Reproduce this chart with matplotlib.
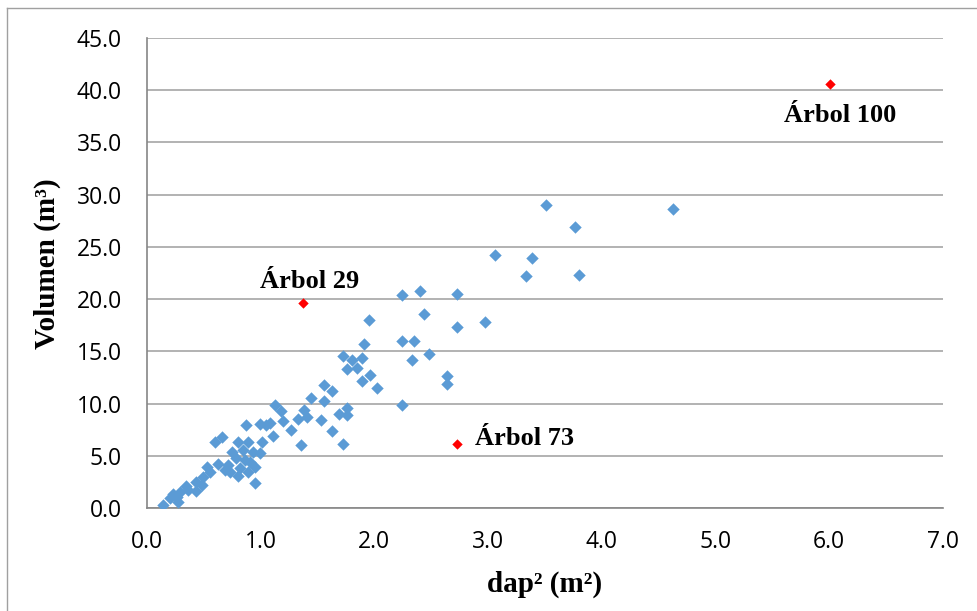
import matplotlib
matplotlib.use("Agg")
from matplotlib import pyplot as plt
from matplotlib.lines import Line2D

# dap^2 (m2) and volume (m3) for the regular trees
dap2 = [3.51, 4.63, 3.76, 3.06, 3.39, 3.33, 3.80, 2.24, 2.40, 2.73,
        2.44, 1.95, 2.97, 2.73, 2.24, 2.35, 1.91, 1.72, 1.89, 2.33,
        2.48, 1.80, 1.76, 1.85, 1.89, 1.96, 2.02, 2.64, 2.64, 1.56,
        1.63, 1.44, 1.56, 1.13, 2.24, 1.18, 1.38, 1.41, 1.69, 1.76,
        1.76, 1.08, 1.20, 1.33, 1.53, 0.87, 0.99, 1.05, 1.27, 1.63,
        1.11, 1.35, 1.72, 0.60, 0.66, 0.80, 0.89, 1.01, 0.75, 0.84,
        0.93, 0.99, 0.62, 0.71, 0.86, 0.82, 0.73, 0.80, 0.89, 0.95,
        0.95, 0.53, 0.55, 0.49, 0.43, 0.48, 0.36, 0.43, 0.29, 0.26,
        0.20, 0.27, 0.14, 0.78, 0.91, 0.69, 0.34, 0.23]
volumen = [29.0, 28.6, 26.9, 24.2, 23.9, 22.2, 22.3, 20.4, 20.8, 20.5,
           18.6, 18.0, 17.8, 17.3, 16.0, 16.0, 15.7, 14.6, 14.4, 14.2,
           14.7, 14.2, 13.3, 13.4, 12.2, 12.7, 11.5, 12.6, 11.9, 11.8,
           11.2, 10.5, 10.2, 9.9, 9.9, 9.3, 9.4, 8.7, 9.0, 9.6,
           8.9, 8.1, 8.3, 8.5, 8.4, 7.9, 8.0, 7.9, 7.5, 7.4,
           6.9, 6.0, 6.1, 6.3, 6.8, 6.3, 6.3, 6.3, 5.4, 5.6,
           5.4, 5.3, 4.2, 4.1, 4.6, 3.8, 3.4, 3.1, 3.4, 3.9,
           2.4, 3.9, 3.4, 3.0, 2.5, 2.2, 1.7, 1.6, 1.5, 1.1,
           1.0, 0.6, 0.3, 4.8, 4.4, 3.6, 2.1, 1.3]

# outliers
out_names = ['Árbol 29', 'Árbol 73', 'Árbol 100']
out_dap2 = [1.37, 2.73, 6.01]
out_vol = [19.6, 6.1, 40.6]
out_offsets = [(5, 16), (13, 4), (7, -23)]
out_ha = ['center', 'left', 'center']

x_ticks = [0, 1, 2, 3, 4, 5, 6, 7]
y_ticks = [0, 5, 10, 15, 20, 25, 30, 35, 40, 45]

fig = plt.figure(figsize=(9.78, 6.11), dpi=100)
ax = fig.add_axes([147 / 978, 103 / 611, 796 / 978, 470 / 611])

ax.scatter(dap2, volumen, marker='D', s=40, color='#5B9BD5', linewidths=0, zorder=3)
ax.scatter(out_dap2, out_vol, marker='D', s=28, color='#FF0000', linewidths=0, zorder=4)

for name, x, y, off, ha in zip(out_names, out_dap2, out_vol, out_offsets, out_ha):
    ax.annotate(name, xy=(x, y), xytext=off, textcoords='offset points',
                ha=ha, va='center', fontsize=19, fontweight='bold',
                family='Liberation Serif')

ax.set_xlim(0, 7)
ax.set_ylim(0, 45)
ax.set_xticks(x_ticks)
ax.set_yticks(y_ticks)
ax.set_xticklabels([f'{v:.1f}' for v in x_ticks], family='Open Sans', fontsize=16.5)
ax.set_yticklabels([f'{v:.1f}' for v in y_ticks], family='Open Sans', fontsize=16.5)
ax.tick_params(axis='both', length=0)
ax.tick_params(axis='y', pad=18)
ax.tick_params(axis='x', pad=16)

ax.grid(axis='y', color='#a6a6a6', linewidth=1.2)
ax.set_axisbelow(True)
for side in ['top', 'right']:
    ax.spines[side].set_visible(False)
for side in ['left', 'bottom']:
    ax.spines[side].set_color('#868686')
    ax.spines[side].set_linewidth(1.2)

fig.text(47 / 978, 1 - 264 / 611, 'Volumen (m³)', rotation=90, ha='center', va='center',
         fontsize=21, fontweight='bold', family='Liberation Serif')
fig.text(545 / 978, 1 - 584 / 611, 'dap² (m²)', ha='center', va='center',
         fontsize=21, fontweight='bold', family='Liberation Serif')

# chart area border (only left and top visible in the crop)
fig.add_artist(Line2D([7 / 978, 7 / 978], [0, 1 - 8 / 611], color='#a0a0a0', lw=1))
fig.add_artist(Line2D([7 / 978, 1], [1 - 8 / 611, 1 - 8 / 611], color='#a0a0a0', lw=1))

fig.savefig('out.png', dpi=100)
